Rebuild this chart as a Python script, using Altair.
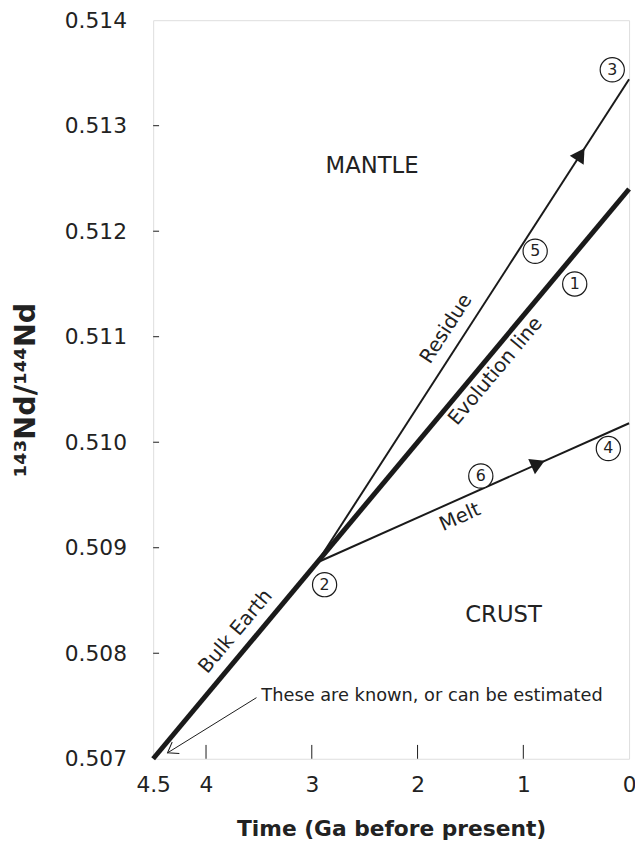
import altair as alt
import pandas as pd

# ---------------- data ----------------
evo_time = [4.5, 0.0]
evo_ratio = [0.5070, 0.5124]

res_time = [2.95, 0.0]
res_ratio = [0.50886, 0.51344]

melt_time = [2.95, 0.0]
melt_ratio = [0.50886, 0.51018]

x_tick_values = [4.5, 4, 3, 2, 1, 0]
x_inner_ticks = [4, 3, 2, 1]
y_tick_values = [0.507, 0.508, 0.509, 0.510, 0.511, 0.512, 0.513, 0.514]
y_inner_ticks = [0.508, 0.509, 0.510, 0.511, 0.512, 0.513]

circle_labels = ["1", "2", "3", "4", "5", "6"]
circle_time = [0.514, 2.879, 0.159, 0.196, 0.888, 1.402]
circle_ratio = [0.51150, 0.50865, 0.51353, 0.50994, 0.51181, 0.50968]

line_labels = ["Bulk Earth", "Evolution line", "Residue", "Melt"]
line_label_time = [3.72, 1.262, 1.729, 1.598]
line_label_ratio = [0.508206, 0.510673, 0.511075, 0.50929]
line_label_angle = [310, 310, 303, 336]

region_labels = ["MANTLE", "CRUST"]
region_time = [2.43, 1.187]
region_ratio = [0.51262, 0.50836]

note_text = ["These are known, or can be estimated"]
note_time = [3.477]
note_ratio = [0.507598]
note_line_time = [3.523, 4.364]
note_line_ratio = [0.507579, 0.507056]

arrow_time = [0.458, 0.86]
arrow_ratio = [0.51273, 0.509796]
arrow_angle = [33, 66]

# ---------------- chart ----------------
FONT = "DejaVu Sans"
INK = "#1a1a1a"
TXT = "#222222"
W, H = 482, 748

xscale = alt.Scale(domain=[0, 4.5], reverse=True, nice=False, zero=False)
yscale = alt.Scale(domain=[0.507, 0.514], nice=False, zero=False)

xaxis = alt.Axis(
    values=x_tick_values,
    labelExpr="datum.value == 4.5 ? '4.5' : format(datum.value, 'd')",
    labelFont=FONT, labelFontSize=22, labelColor=TXT,
    labelPadding=16, labelFlush=False, labelOverlap=False, ticks=False,
    domain=False, grid=False, title="Time (Ga before present)",
    titleFont=FONT, titleFontSize=22, titleFontWeight="bold", titleColor=TXT,
    titlePadding=24,
)
yaxis = alt.Axis(
    values=y_tick_values, format=".3f",
    labelFont=FONT, labelFontSize=22, labelColor=TXT,
    labelPadding=27, labelOverlap=False, ticks=False, domain=False, grid=False,
    title="¹⁴³Nd/¹⁴⁴Nd", titleFont=FONT, titleFontSize=29, titleFontWeight="bold",
    titleColor=TXT, titlePadding=24,
)

def X(field="t"):
    return alt.X(f"{field}:Q", scale=xscale, axis=xaxis)

def Y(field="r"):
    return alt.Y(f"{field}:Q", scale=yscale, axis=yaxis)

evo_df = pd.DataFrame({"t": evo_time, "r": evo_ratio})
res_df = pd.DataFrame({"t": res_time, "r": res_ratio})
melt_df = pd.DataFrame({"t": melt_time, "r": melt_ratio})

evo = alt.Chart(evo_df).mark_line(color=INK, strokeWidth=5).encode(x=X(), y=Y())
res = alt.Chart(res_df).mark_line(color=INK, strokeWidth=2).encode(x=X(), y=Y())
melt = alt.Chart(melt_df).mark_line(color=INK, strokeWidth=2).encode(x=X(), y=Y())

xt = alt.Chart(pd.DataFrame({"t": x_inner_ticks})).mark_rule(color=INK, strokeWidth=1).encode(
    x=X(), y=alt.value(H), y2=alt.value(H - 14))
yt = alt.Chart(pd.DataFrame({"r": y_inner_ticks})).mark_rule(color=INK, strokeWidth=1).encode(
    y=Y(), x=alt.value(0), x2=alt.value(6))

arrows = alt.Chart(pd.DataFrame({"t": arrow_time, "r": arrow_ratio, "a": arrow_angle})).mark_point(
    shape="triangle-up", filled=True, size=280, color=INK, opacity=1).encode(
    x=X(), y=Y(), angle=alt.Angle("a:Q", scale=None))

note_line = alt.Chart(pd.DataFrame({"t": [note_line_time[0]], "r": [note_line_ratio[0]],
                                    "t2": [note_line_time[1]], "r2": [note_line_ratio[1]]})).mark_rule(
    color=INK, strokeWidth=1).encode(x=X(), y=Y(), x2="t2:Q", y2="r2:Q")
note_head = alt.Chart(pd.DataFrame({"t": [note_line_time[1]], "r": [note_line_ratio[1]]})).mark_point(
    shape="M -0.57 -0.82 L 0 0 L 0.57 -0.82", filled=False, size=576, angle=58,
    color=INK, strokeWidth=1, opacity=1).encode(x=X(), y=Y())
note = alt.Chart(pd.DataFrame({"t": note_time, "r": note_ratio, "s": note_text})).mark_text(
    align="left", baseline="middle", font=FONT, fontSize=18, color=TXT).encode(
    x=X(), y=Y(), text="s:N")

circles_df = pd.DataFrame({"t": circle_time, "r": circle_ratio, "s": circle_labels})
circles = alt.Chart(circles_df).mark_point(
    shape="circle", size=600, filled=False, color=INK, strokeWidth=1.2, opacity=1,
    fill="white", fillOpacity=1).encode(x=X(), y=Y())
circle_txt = alt.Chart(circles_df).mark_text(
    align="center", baseline="middle", font=FONT, fontSize=16, color=TXT).encode(
    x=X(), y=Y(), text="s:N")

lab_df = pd.DataFrame({"t": line_label_time, "r": line_label_ratio, "s": line_labels, "a": line_label_angle})
labels = alt.Chart(lab_df).mark_text(
    align="center", baseline="middle", font=FONT, fontSize=20, color=TXT).encode(
    x=X(), y=Y(), text="s:N", angle=alt.Angle("a:Q", scale=None))

reg_df = pd.DataFrame({"t": region_time, "r": region_ratio, "s": region_labels})
regions = alt.Chart(reg_df).mark_text(
    align="center", baseline="middle", font=FONT, fontSize=23, color=TXT).encode(
    x=X(), y=Y(), text="s:N")

chart = alt.layer(
    xt, yt, note_line, note_head, evo, res, melt, arrows, circles, circle_txt,
    labels, regions, note,
).properties(
    width=W, height=H,
    autosize=alt.AutoSizeParams(type="none"),
    padding={"left": 147, "top": 7, "right": 6, "bottom": 82},
).configure_view(
    stroke=INK, strokeWidth=1
).configure_axis(
    labelFont=FONT, titleFont=FONT
).configure(background="white", font=FONT)

chart.save("out.html", embed_options={"renderer": "svg", "actions": False})
